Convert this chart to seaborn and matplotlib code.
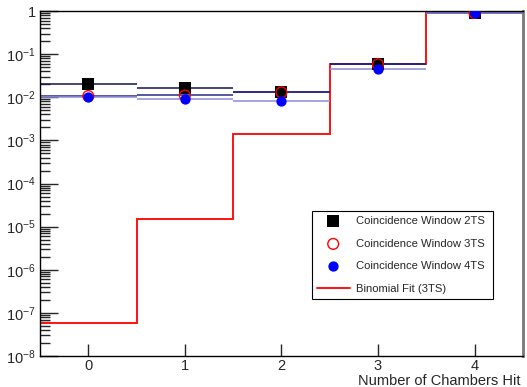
import numpy as np
import pandas as pd
import matplotlib
matplotlib.use('Agg')
import matplotlib.pyplot as plt
import matplotlib.ticker as mticker
import seaborn as sns

n_hit = [0, 1, 2, 3, 4]
win_2ts = [0.020, 0.016, 0.0130, 0.059, 0.90]
win_3ts = [0.0107, 0.0110, 0.0130, 0.058, 0.90]
win_4ts = [0.0100, 0.0093, 0.0081, 0.046, 0.90]
binom_3ts = [5.8e-8, 1.5e-5, 1.4e-3, 0.058, 0.95]

sns.set_style('white')
plt.rcParams['font.family'] = ['Liberation Sans', 'DejaVu Sans']
plt.rcParams['mathtext.default'] = 'regular'

df = pd.DataFrame({'n': n_hit, '2TS': win_2ts, '3TS': win_3ts,
                   '4TS': win_4ts, 'fit': binom_3ts})

fig = plt.figure(figsize=(5.27, 3.87), dpi=100)
ax = fig.add_axes([0.076, 0.080, 0.916, 0.8915])

# horizontal bin-width bars
ax.errorbar(df['n'], df['2TS'], xerr=0.5, fmt='none', ecolor='#141450', lw=1.1, capsize=0)
ax.errorbar(df['n'], df['3TS'], xerr=0.5, fmt='none', ecolor='#28288a', lw=1.1, capsize=0)
ax.errorbar(df['n'], df['4TS'], xerr=0.5, fmt='none', ecolor='#8c8cd8', lw=1.1, capsize=0)

# binomial fit step line
edges = np.append(df['n'].values - 0.5, df['n'].values[-1] + 0.5)
ax.stairs(df['fit'], edges, color='#ff1010', lw=1.4, baseline=None,
          label='Binomial Fit (3TS)')

sns.scatterplot(data=df, x='n', y='2TS', marker='s', s=75, color='black',
                edgecolor='black', linewidth=0, ax=ax, label='Coincidence Window 2TS', zorder=3)
sns.scatterplot(data=df, x='n', y='3TS', marker='o', s=60, facecolor='none',
                edgecolor='red', linewidth=1.0, ax=ax, label='Coincidence Window 3TS', zorder=4)
sns.scatterplot(data=df, x='n', y='4TS', marker='o', s=55, color='blue',
                edgecolor='blue', linewidth=0, ax=ax, label='Coincidence Window 4TS', zorder=5)

ax.set_yscale('log')
ax.set_ylim(1e-8, 1)
ax.set_xlim(-0.5, 4.5)
ax.set_xticks(n_hit)
ax.set_xticklabels([str(v) for v in n_hit])

def ylab(v, pos):
    e = int(round(np.log10(v)))
    return '1' if e == 0 else r'$10^{%d}$' % e

ax.yaxis.set_major_locator(mticker.LogLocator(base=10, numticks=20))
ax.yaxis.set_minor_locator(mticker.LogLocator(base=10, subs=np.arange(2, 10), numticks=20))
ax.yaxis.set_minor_formatter(mticker.NullFormatter())
ax.yaxis.set_major_formatter(mticker.FuncFormatter(ylab))
ax.tick_params(axis='y', which='major', direction='in', length=13, width=1, labelsize=10.5, left=True, pad=3)
ax.tick_params(axis='y', which='minor', direction='in', length=7, width=1, left=True)
ax.tick_params(axis='x', which='major', direction='in', length=9, width=1, labelsize=10.5, bottom=True, pad=2)
ax.minorticks_on()
ax.xaxis.set_minor_locator(mticker.NullLocator())

for side in ['left', 'bottom', 'top']:
    ax.spines[side].set_color('black')
    ax.spines[side].set_linewidth(1.0)
ax.spines['right'].set_color('#777777')
ax.spines['right'].set_linewidth(2.0)

ax.set_ylabel('')
ax.set_xlabel('Number of Chambers Hit', fontsize=10.5, ha='right', va='top')
ax.xaxis.set_label_coords(0.995, -0.053)

handles, labels = ax.get_legend_handles_labels()
order = ['Coincidence Window 2TS', 'Coincidence Window 3TS',
         'Coincidence Window 4TS', 'Binomial Fit (3TS)']
hmap = dict(zip(labels, handles))
leg = ax.legend([hmap[k] for k in order], order, loc='lower left',
                bbox_to_anchor=(0.563, 0.165, 0.375, 0.254), mode='expand',
                borderaxespad=0, fontsize=8.1, frameon=True, fancybox=False,
                framealpha=1, edgecolor='black', borderpad=0.45,
                labelspacing=1.12, handlelength=2.9, handletextpad=0.6)
leg.get_frame().set_linewidth(0.8)

fig.savefig('out.png', dpi=100)
